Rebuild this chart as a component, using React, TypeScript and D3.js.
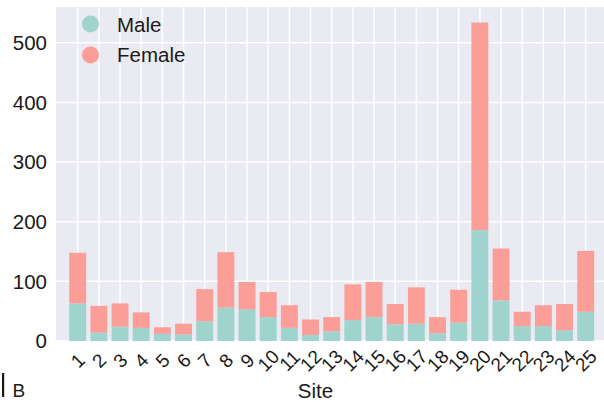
import * as d3 from "d3";

const sites = ["1", "2", "3", "4", "5", "6", "7", "8", "9", "10", "11", "12", "13", "14", "15", "16", "17", "18", "19", "20", "21", "22", "23", "24", "25"];
const male = [63, 14, 24, 22, 12, 11, 33, 56, 53, 40, 22, 10, 16, 35, 40, 28, 29, 13, 31, 186, 68, 25, 25, 18, 49];
const female = [85, 45, 39, 26, 11, 18, 54, 93, 46, 42, 38, 26, 24, 60, 59, 34, 61, 27, 55, 348, 87, 24, 35, 44, 102];
const yTicks = [0, 100, 200, 300, 400, 500];

const MALE_COLOR = "#9ed3ce";
const FEMALE_COLOR = "#fb9e98";
const FONT = "'Liberation Sans', Arial, sans-serif";

const App = () => {
  const width = 604;
  const height = 402;
  const plotLeft = 56;
  const plotTop = 7;
  const plotBottom = 341;

  const x = d3
    .scaleLinear()
    .domain([0, sites.length - 1])
    .range([77.7, 585.7]);
  const step = x(1) - x(0);
  const barW = step * 0.8;

  const y = d3.scaleLinear().domain([0, 560]).range([plotBottom, plotTop]);

  const stacked = sites.map((s, i) => ({ site: s, i, male: male[i], female: female[i] }));

  return (
    <svg
      width={width}
      height={height}
      style={{ position: "absolute", left: 0, top: 0, fontFamily: FONT }}
    >
      <rect x={0} y={0} width={width} height={height} fill="#ffffff" />
      <rect
        x={plotLeft}
        y={plotTop}
        width={width - plotLeft}
        height={plotBottom - plotTop}
        fill="#eaeaf2"
      />
      {/* grid */}
      {yTicks.map((t) => (
        <line
          key={"gy" + t}
          x1={plotLeft}
          x2={width}
          y1={y(t)}
          y2={y(t)}
          stroke="#ffffff"
          strokeWidth={1.5}
        />
      ))}
      {stacked.map((d) => (
        <line
          key={"gx" + d.site}
          x1={x(d.i)}
          x2={x(d.i)}
          y1={plotTop}
          y2={plotBottom}
          stroke="#ffffff"
          strokeWidth={1.5}
        />
      ))}
      {/* bars */}
      {stacked.map((d) => (
        <g key={"b" + d.site}>
          <rect
            x={x(d.i) - barW / 2}
            y={y(d.male)}
            width={barW}
            height={y(0) - y(d.male)}
            fill={MALE_COLOR}
          />
          <rect
            x={x(d.i) - barW / 2}
            y={y(d.male + d.female)}
            width={barW}
            height={y(d.male) - y(d.male + d.female)}
            fill={FEMALE_COLOR}
          />
        </g>
      ))}
      {/* y axis labels */}
      {yTicks.map((t) => (
        <text
          key={"ty" + t}
          x={47}
          y={y(t)}
          dy="0.36em"
          textAnchor="end"
          fontSize={20.5}
          fill="#1a1a1a"
        >
          {t}
        </text>
      ))}
      {/* x axis labels */}
      {stacked.map((d) => (
        <text
          key={"tx" + d.site}
          transform={`translate(${x(d.i)},360.5) rotate(-45)`}
          textAnchor="middle"
          dy="0.36em"
          fontSize={19}
          fill="#1a1a1a"
        >
          {d.site}
        </text>
      ))}
      <text x={315.5} y={397.5} textAnchor="middle" fontSize={20.5} fill="#1a1a1a">
        Site
      </text>
      {/* legend */}
      <circle cx={90.5} cy={24} r={8.5} fill={MALE_COLOR} />
      <text x={117} y={31.5} fontSize={20.5} fill="#1a1a1a">
        Male
      </text>
      <circle cx={90.5} cy={55} r={8.5} fill={FEMALE_COLOR} />
      <text x={117} y={62} fontSize={20.5} fill="#1a1a1a">
        Female
      </text>
      {/* panel label */}
      <rect x={2} y={373} width={2.2} height={24} fill="#1a1a1a" />
      <text x={12.5} y={397} fontSize={19} fill="#1a1a1a">
        B
      </text>
    </svg>
  );
};

export default App;
